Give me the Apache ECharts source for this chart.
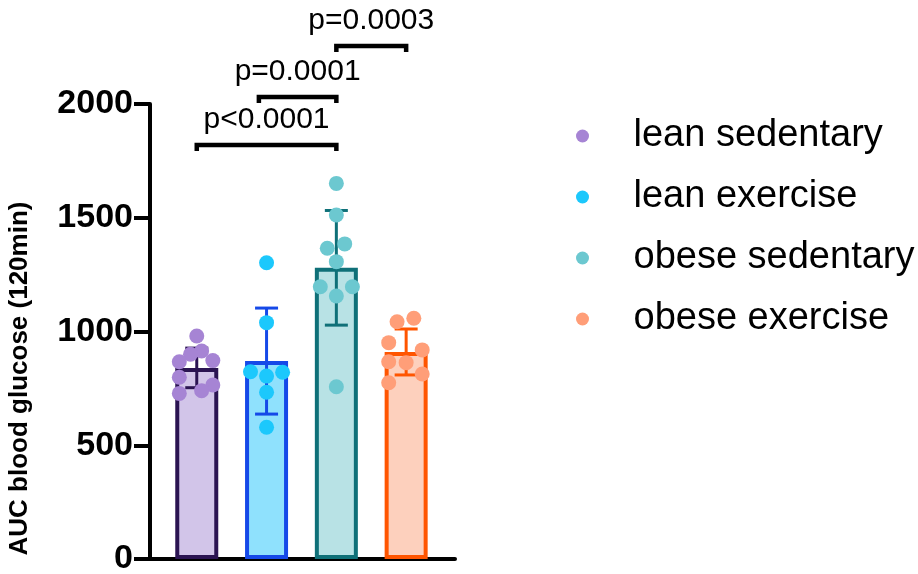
<!DOCTYPE html>
<html><head><meta charset="utf-8">
<script src="https://cdn.jsdelivr.net/npm/echarts@6/dist/echarts.min.js"></script>
<style>html,body{margin:0;padding:0;background:#fff}#c{width:918px;height:574px}</style>
</head><body><div id="c"></div>
<script>
// ---- data ----
const groups = ['lean sedentary', 'lean exercise', 'obese sedentary', 'obese exercise'];
const groupPos = [1, 2, 3, 4];
const means = [840, 870, 1280, 910];
const sds = [87, 233, 252, 101];

const dotsLeanSed = [980, 914, 900, 867, 872, 799, 765, 740, 728];
const jitLeanSed  = [0, 0.07, -0.09, -0.25, 0.23, -0.25, 0.23, 0.07, -0.25];
const dotsLeanEx  = [1302, 1039, 823, 804, 821, 733, 579];
const jitLeanEx   = [0, 0, -0.23, 0, 0.23, 0, 0];
const dotsObSed   = [1651, 1512, 1366, 1385, 1307, 1197, 1197, 1156, 757];
const jitObSed    = [0, 0, -0.13, 0.12, 0, -0.23, 0.23, 0, 0];
const dotsObEx    = [1043, 1058, 951, 919, 867, 863, 813, 775];
const jitObEx     = [-0.13, 0.11, -0.25, 0.23, -0.25, 0, 0.23, -0.25];

const yMin = 0, yMax = 2000, yStep = 500;
const yTickLabels = ['0', '500', '1000', '1500', '2000'];

const bracketFrom = [1, 1.89, 3];
const bracketTo = [3, 3, 4];
const bracketY = [1820, 2031, 2255];
const bracketLabels = ['p<0.0001', 'p=0.0001', 'p=0.0003'];

// ---- styles ----
const FONT = '"Liberation Sans", Arial, Helvetica, sans-serif';
const fillColors = ['#d2c5e9', '#8fe1fd', '#b8e2e5', '#fdd0bd'];
const edgeColors = ['#2b1452', '#1549e8', '#0f7078', '#ff5500'];
const dotColors = ['#a684d4', '#1cc8fc', '#6cc8d0', '#ff9e78'];

const dotSets = [dotsLeanSed, dotsLeanEx, dotsObSed, dotsObEx];
const jitSets = [jitLeanSed, jitLeanEx, jitObSed, jitObEx];

const chart = echarts.init(document.getElementById('c'), null, {renderer: 'canvas'});

const scatterSeries = groups.map((g, i) => ({
  name: g,
  type: 'scatter',
  z: 5,
  symbol: 'circle',
  symbolSize: 15,
  itemStyle: {color: dotColors[i], opacity: 1},
  data: dotSets[i].map((v, k) => [groupPos[i] + jitSets[i][k], v])
}));

const option = {
  animation: false,
  grid: {left: 150, right: 463, top: 104, bottom: 15, containLabel: false, outerBoundsMode: 'none'},
  legend: {
    data: groups,
    orient: 'vertical',
    left: 571,
    top: 111,
    icon: 'circle',
    itemWidth: 92,
    itemHeight: 13,
    itemGap: 21,
    selectedMode: false,
    textStyle: {fontSize: 38, lineHeight: 40, color: '#000', fontFamily: FONT}
  },
  xAxis: {
    type: 'value', min: 0.33, max: 4.7,
    axisLine: {show: true, onZero: false, lineStyle: {color: '#000', width: 4}},
    axisTick: {show: false}, axisLabel: {show: false}, splitLine: {show: false}
  },
  yAxis: {
    type: 'value', min: yMin, max: yMax, interval: yStep,
    name: 'AUC blood glucose (120min)',
    nameLocation: 'middle',
    nameGap: 117,
    nameTextStyle: {fontSize: 26, fontWeight: 'bold', color: '#000', fontFamily: FONT, padding: [0, 94, 0, 0]},
    axisLine: {show: true, onZero: false, lineStyle: {color: '#000', width: 4}},
    axisTick: {show: true, length: 16, lineStyle: {color: '#000', width: 4}},
    axisLabel: {
      fontSize: 34, fontWeight: 'bold', color: '#000', fontFamily: FONT, margin: 17,
      formatter: function (v) { return yTickLabels[Math.round((v - yMin) / yStep)]; }
    },
    splitLine: {show: false}
  },
  series: [
    {
      name: 'means',
      type: 'bar',
      z: 2,
      barWidth: 43,
      itemStyle: {borderWidth: 4},
      data: means.map((m, i) => ({
        value: [groupPos[i], m],
        itemStyle: {color: fillColors[i], borderColor: edgeColors[i], borderWidth: 4}
      }))
    },
    {
      name: 'sd',
      type: 'custom',
      z: 3,
      encode: {x: 0, y: 1},
      data: means.map((m, i) => [groupPos[i], m, sds[i]]),
      renderItem: function (params, api) {
        const x = api.value(0), m = api.value(1), s = api.value(2);
        const top = api.coord([x, m + s]);
        const bot = api.coord([x, m - s]);
        const hw = 11.5;
        const c = edgeColors[params.dataIndex];
        const st = {stroke: c, lineWidth: 3};
        return {
          type: 'group',
          children: [
            {type: 'line', shape: {x1: top[0], y1: top[1], x2: bot[0], y2: bot[1]}, style: st},
            {type: 'line', shape: {x1: top[0] - hw, y1: top[1], x2: top[0] + hw, y2: top[1]}, style: st},
            {type: 'line', shape: {x1: bot[0] - hw, y1: bot[1], x2: bot[0] + hw, y2: bot[1]}, style: st}
          ]
        };
      }
    },
    ...scatterSeries,
    {
      name: 'brackets',
      type: 'custom',
      z: 6,
      clip: false,
      encode: {x: 0, y: 2},
      data: bracketFrom.map((f, i) => [f, bracketTo[i], bracketY[i]]),
      renderItem: function (params, api) {
        const p1 = api.coord([api.value(0), api.value(2)]);
        const p2 = api.coord([api.value(1), api.value(2)]);
        const leg = 6;
        return {
          type: 'group',
          children: [
            {type: 'polyline', shape: {points: [[p1[0], p1[1] + leg], [p1[0], p1[1]], [p2[0], p2[1]], [p2[0], p2[1] + leg]]},
             style: {stroke: '#000', lineWidth: 4.5, fill: null}},
            {type: 'text', x: (p1[0] + p2[0]) / 2, y: p1[1] - 10,
             style: {text: bracketLabels[params.dataIndex], fill: '#000', font: '30px ' + FONT, textAlign: 'center', textVerticalAlign: 'bottom'}}
          ]
        };
      }
    }
  ]
};
chart.setOption(option);
</script>
</body></html>
